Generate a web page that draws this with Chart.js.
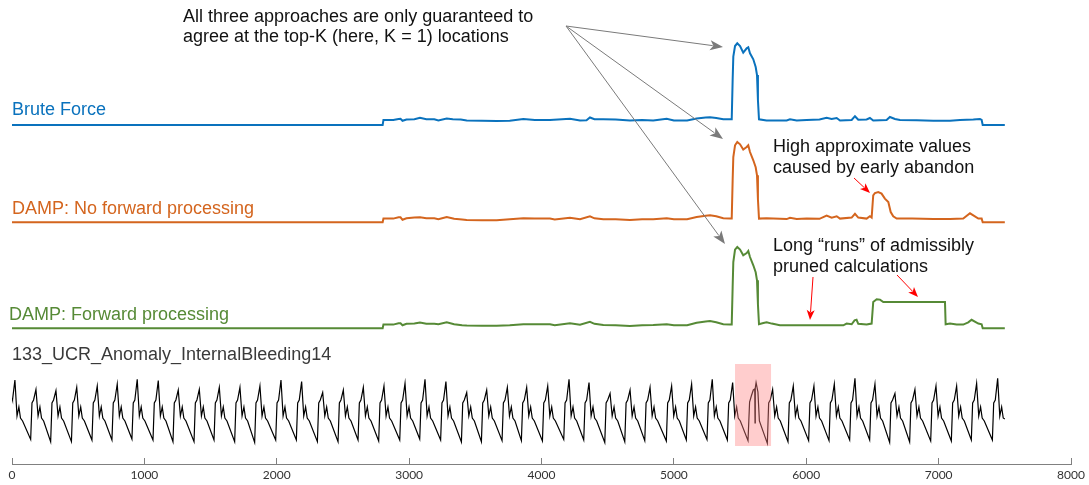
<!DOCTYPE html>
<html><head><meta charset="utf-8">
<script src="https://cdn.jsdelivr.net/npm/chart.js@4"></script>
<style>html,body{margin:0;padding:0;background:#fff;overflow:hidden}</style>
</head><body>
<canvas id="c" width="1089" height="485"></canvas>
<script>
// ---------------- DATA ----------------
const xTickValues = [0, 1000, 2000, 3000, 4000, 5000, 6000, 7000, 8000];

const seriesNames = ['Brute Force', 'DAMP: No forward processing', 'DAMP: Forward processing'];
const datasetName = '133_UCR_Anomaly_InternalBleeding14';

// [time index, score]
const bruteForce = [[0,0],[2800,0],[2806,0.5],[2880,0.5],[2920,0.6],[2935,0.62],[2950,0.42],[2980,0.55],[3040,0.57],[3082,0.72],[3130,0.57],[3190,0.57],[3221,0.45],[3284,0.65],[3330,0.57],[3390,0.55],[3435,0.45],[3550,0.43],[3661,0.4],[3760,0.42],[3863,0.6],[3950,0.5],[4064,0.5],[4215,0.62],[4291,0.45],[4340,0.48],[4366,0.75],[4400,0.57],[4467,0.57],[4560,0.55],[4668,0.45],[4760,0.5],[4844,0.45],[4946,0.62],[5000,0.45],[5100,0.45],[5172,0.65],[5240,0.75],[5273,0.77],[5320,0.7],[5373,0.57],[5424,0.57],[5437,0.57],
  [5444,4.5],[5449,6.83],[5462,7.9],[5479,8.17],[5500,7.9],[5524,7.23],[5550,7.67],[5562,7.77],[5575,7.17],[5600,6.57],[5618,5.8],[5628,5.0],[5635,2.5],[5643,0.57],
  [5700,0.45],[5852,0.45],[5877,0.57],[5928,0.45],[6003,0.5],[6100,0.55],[6154,0.73],[6192,0.6],[6230,0.7],[6255,0.45],[6343,0.5],[6368,0.88],[6393,0.52],[6456,0.55],[6481,0.7],[6506,0.45],[6607,0.5],[6632,0.8],[6670,0.6],[6708,0.5],[6834,0.47],[6960,0.42],[7086,0.42],[7161,0.5],[7262,0.55],[7312,0.6],[7325,0.5],[7333,0],[7500,0]];

const dampNoForward = [[0,0],[2800,0],[2806,0.37],[2880,0.37],[2920,0.5],[2935,0.5],[2950,0.25],[2980,0.4],[3040,0.47],[3082,0.5],[3130,0.4],[3190,0.4],[3221,0.3],[3284,0.53],[3340,0.35],[3400,0.27],[3435,0.22],[3550,0.2],[3661,0.2],[3760,0.3],[3863,0.4],[3950,0.37],[4064,0.37],[4100,0.27],[4215,0.45],[4291,0.3],[4366,0.6],[4400,0.4],[4467,0.3],[4560,0.3],[4668,0.22],[4760,0.3],[4844,0.3],[4946,0.4],[5000,0.3],[5100,0.3],[5172,0.53],[5240,0.65],[5273,0.7],[5320,0.6],[5373,0.4],[5424,0.37],[5437,0.37],
  [5444,4.2],[5449,6.53],[5462,7.7],[5479,8.03],[5500,7.8],[5524,7.27],[5550,7.53],[5562,7.7],[5575,7.03],[5600,6.2],[5618,5.5],[5628,4.7],[5635,2.3],[5643,0.37],
  [5700,0.4],[5852,0.32],[5877,0.45],[5928,0.32],[6003,0.37],[6100,0.35],[6154,0.68],[6192,0.47],[6230,0.6],[6255,0.37],[6343,0.47],[6368,0.85],[6393,0.47],[6456,0.37],[6481,0.6],[6494,0.47],[6506,2.7],[6519,2.93],[6544,3.03],[6569,2.87],[6594,2.37],[6620,2.03],[6638,1.03],[6657,0.6],[6683,0.37],[6800,0.37],[6960,0.32],[7086,0.32],[7186,0.37],[7237,0.9],[7262,0.7],[7300,0.37],[7325,0.37],[7333,0],[7500,0]];

const dampForward = [[0,0],[2800,0],[2806,0.37],[2880,0.37],[2920,0.5],[2935,0.5],[2950,0.3],[2980,0.45],[3040,0.47],[3082,0.58],[3130,0.45],[3190,0.45],[3221,0.4],[3284,0.6],[3340,0.4],[3400,0.3],[3435,0.27],[3550,0.25],[3661,0.25],[3760,0.3],[3863,0.4],[3950,0.4],[4064,0.4],[4100,0.3],[4215,0.5],[4291,0.35],[4366,0.65],[4400,0.45],[4467,0.32],[4560,0.3],[4668,0.22],[4760,0.3],[4844,0.33],[4946,0.4],[5000,0.3],[5100,0.3],[5172,0.55],[5240,0.68],[5273,0.72],[5320,0.6],[5373,0.4],[5424,0.37],[5437,0.37],
  [5444,4.13],[5449,6.63],[5462,7.87],[5479,8.13],[5500,7.87],[5524,7.3],[5550,7.53],[5562,7.73],[5575,7.13],[5600,6.3],[5618,5.6],[5628,4.8],[5635,2.4],[5643,0.4],
  [5676,0.53],[5701,0.6],[5739,0.47],[5801,0.3],[6280,0.3],[6305,0.47],[6343,0.4],[6365,0.8],[6380,0.85],[6393,0.45],[6456,0.37],[6494,0.47],[6506,2.63],[6532,2.9],[6557,2.87],[6582,2.63],[7048,2.63],[7053,0.4],[7086,0.47],[7136,0.37],[7186,0.37],[7224,0.6],[7249,0.85],[7300,0.47],[7325,0.4],[7333,0],[7500,0]];

// Time series: per-beat peak times, peak values and preceding trough values
const ecgPeakX = [22,181,332,489,644,795,946,1105,1256,1415,1566,1722,1873,2032,2188,2347,2503,2654,
  2810,2969,3120,3278,3435,3586,3742,3888,4047,4208,4359,4518,4669,4820,4983,5134,5290,5444,
  5746,5902,6058,6212,6368,6519,6670,6821,6980,7136,7287,7446];
const ecgPeakY = [2.0,1.53,1.47,1.63,1.7,1.8,2.03,1.97,1.5,1.53,1.63,1.63,1.7,2.0,1.92,1.37,1.5,1.63,
  1.7,1.83,2.03,1.92,1.37,1.5,1.63,1.63,1.7,2.03,1.87,1.33,1.5,1.63,1.7,1.8,2.03,1.87,
  1.53,1.7,1.7,1.8,2.08,1.8,1.33,1.53,1.7,1.7,1.83,2.08];
const ecgTroughY = [-0.95,-0.97,-1.08,-1.08,-1.0,-1.0,-0.95,-1.0,-1.08,-1.08,-1.0,-1.08,-1.12,-1.0,-1.0,-1.08,-1.08,-1.0,
  -1.05,-1.0,-0.95,-1.0,-1.1,-1.08,-1.03,-1.03,-1.05,-0.97,-1.0,-1.12,-1.08,-1.03,-1.05,-1.0,-0.97,-1.0,
  -1.17,-1.08,-1.03,-1.03,-1.0,-1.0,-1.12,-1.1,-1.05,-1.05,-1.0,-1.0];
// shape of one heartbeat relative to its peak (null = use the beat's trough / peak value)
const beatShapeDt = [-40, -30, -18, 0, 16, 30, 42, 58];
const beatShapeY  = [null, 0.85, 1.0, null, 0.2, 0.65, 0.1, -0.05];
const ecgEnds = [[0, 1.1], [7500, 0.05]];
const anomalyBeat = [[5560,-1.03],[5572,0.9],[5585,1.2],[5600,1.5],[5611,1.55],[5613,-0.15],[5615,1.6],[5621,1.87],[5635,1.4],[5646,-0.05]];
const anomalyRange = [5462, 5734];
const anomalyBand = [-1.3, 2.8];

// ---------------- BUILD ----------------
const ecgPoints = [];
ecgEnds.forEach(p => ecgPoints.push({x: p[0], y: p[1]}));
anomalyBeat.forEach(p => ecgPoints.push({x: p[0], y: p[1]}));
ecgPeakX.forEach((pk, i) => {
  beatShapeDt.forEach((dt, j) => {
    const x = pk + dt;
    if (x <= ecgEnds[0][0] || x >= ecgEnds[1][0]) return;
    let y = beatShapeY[j];
    if (j === 0) y = ecgTroughY[i];
    if (j === 3) y = ecgPeakY[i];
    ecgPoints.push({x, y});
  });
});
ecgPoints.sort((a, b) => a.x - b.x);
const toXY = arr => arr.map(p => ({x: p[0], y: p[1]}));

const PLOT_TOP = 0, PLOT_BOTTOM = 464;
function bandAxis(basePx, pxPerUnit) {
  const min = (basePx - PLOT_BOTTOM) / pxPerUnit;
  return {type: 'linear', display: false, min: min, max: min + (PLOT_BOTTOM - PLOT_TOP) / pxPerUnit};
}

const COL_BLUE = '#0a72bd', COL_ORANGE = '#d4651e', COL_GREEN = '#568a36';

function arrow(ctx, x1, y1, x2, y2, color, hl, hw) {
  const a = Math.atan2(y2 - y1, x2 - x1), c = Math.cos(a), s = Math.sin(a);
  ctx.save();
  ctx.strokeStyle = color; ctx.fillStyle = color; ctx.lineWidth = 1;
  ctx.beginPath(); ctx.moveTo(x1, y1); ctx.lineTo(x2 - hl * 0.8 * c, y2 - hl * 0.8 * s); ctx.stroke();
  const bx = x2 - hl * c, by = y2 - hl * s;
  ctx.beginPath();
  ctx.moveTo(x2, y2);
  ctx.lineTo(bx + hw / 2 * s, by - hw / 2 * c);
  ctx.lineTo(x2 - hl * 0.75 * c, y2 - hl * 0.75 * s);
  ctx.lineTo(bx - hw / 2 * s, by + hw / 2 * c);
  ctx.closePath(); ctx.fill();
  ctx.restore();
}

const decor = {
  id: 'decor',
  afterDatasetsDraw(chart) {
    const ctx = chart.ctx, xs = chart.scales.x, ys = chart.scales.yEcg;
    ctx.save();
    // anomaly region
    const x0 = xs.getPixelForValue(anomalyRange[0]), x1 = xs.getPixelForValue(anomalyRange[1]);
    const y0 = ys.getPixelForValue(anomalyBand[1]), y1 = ys.getPixelForValue(anomalyBand[0]);
    ctx.fillStyle = 'rgba(255,130,130,0.4)';
    ctx.fillRect(x0, y0, x1 - x0, y1 - y0);
    // texts
    ctx.textBaseline = 'alphabetic'; ctx.textAlign = 'left';
    ctx.font = '18px "Liberation Sans", Arial, sans-serif';
    ctx.fillStyle = COL_BLUE; ctx.fillText(seriesNames[0], 12, 115);
    ctx.fillStyle = COL_ORANGE; ctx.fillText(seriesNames[1], 12, 214);
    ctx.fillStyle = COL_GREEN; ctx.fillText(seriesNames[2], 9, 320);
    ctx.fillStyle = '#3a3a3a'; ctx.fillText(datasetName, 12, 360);
    ctx.fillStyle = '#111';
    ctx.fillText('All three approaches are only guaranteed to', 183, 22);
    ctx.fillText('agree at the top-K (here, K = 1) locations', 183, 42);
    ctx.fillText('High approximate values', 773, 152);
    ctx.fillText('caused by early abandon', 773, 172.5);
    ctx.fillText('Long \u201Cruns\u201D of admissibly', 773, 251);
    ctx.fillText('pruned calculations', 773, 271.5);
    // arrows
    const g = '#7a7a7a';
    arrow(ctx, 566, 26, 723, 47, g, 13, 10);
    arrow(ctx, 566, 26, 723, 139, g, 13, 10);
    arrow(ctx, 566, 26, 725, 244, g, 13, 10);
    const r = '#ff0000';
    arrow(ctx, 854, 178, 870, 193, r, 10, 8);
    arrow(ctx, 813, 277, 810, 320, r, 10, 8);
    arrow(ctx, 897, 275, 918, 297, r, 10, 8);
    ctx.restore();
  }
};

Chart.defaults.font.family = '"Liberation Sans", Arial, sans-serif';

new Chart(document.getElementById('c'), {
  type: 'line',
  data: {
    datasets: [
      {label: seriesNames[0], data: toXY(bruteForce), yAxisID: 'yBrute', borderColor: COL_BLUE, borderWidth: 2, pointRadius: 0, tension: 0},
      {label: seriesNames[1], data: toXY(dampNoForward), yAxisID: 'yNoFwd', borderColor: COL_ORANGE, borderWidth: 2, pointRadius: 0, tension: 0},
      {label: seriesNames[2], data: toXY(dampForward), yAxisID: 'yFwd', borderColor: COL_GREEN, borderWidth: 2, pointRadius: 0, tension: 0},
      {label: datasetName, data: ecgPoints, yAxisID: 'yEcg', borderColor: '#000', borderWidth: 1.2, pointRadius: 0, tension: 0}
    ]
  },
  options: {
    responsive: false,
    animation: false,
    events: [],
    layout: {padding: {left: 12, right: 18, top: 0, bottom: -7}},
    plugins: {legend: {display: false}, tooltip: {enabled: false}},
    scales: {
      x: {
        type: 'linear', min: 0, max: 8000,
        afterBuildTicks: axis => { axis.ticks = xTickValues.map(v => ({value: v})); },
        ticks: {autoSkip: false, maxRotation: 0, padding: 0, color: '#333333',
                font: {family: 'Lato, "Open Sans", sans-serif', size: 12, lineHeight: 34 / 12},
                callback: v => String(v)},
        grid: {drawOnChartArea: false, drawTicks: true, tickLength: -6, color: '#808080', lineWidth: 1},
        border: {display: true, color: '#808080', width: 1}
      },
      yBrute: bandAxis(125, 10),
      yNoFwd: bandAxis(222.3, 10),
      yFwd: bandAxis(328.3, 10),
      yEcg: bandAxis(420, 20)
    }
  },
  plugins: [decor]
});
</script>
</body></html>
